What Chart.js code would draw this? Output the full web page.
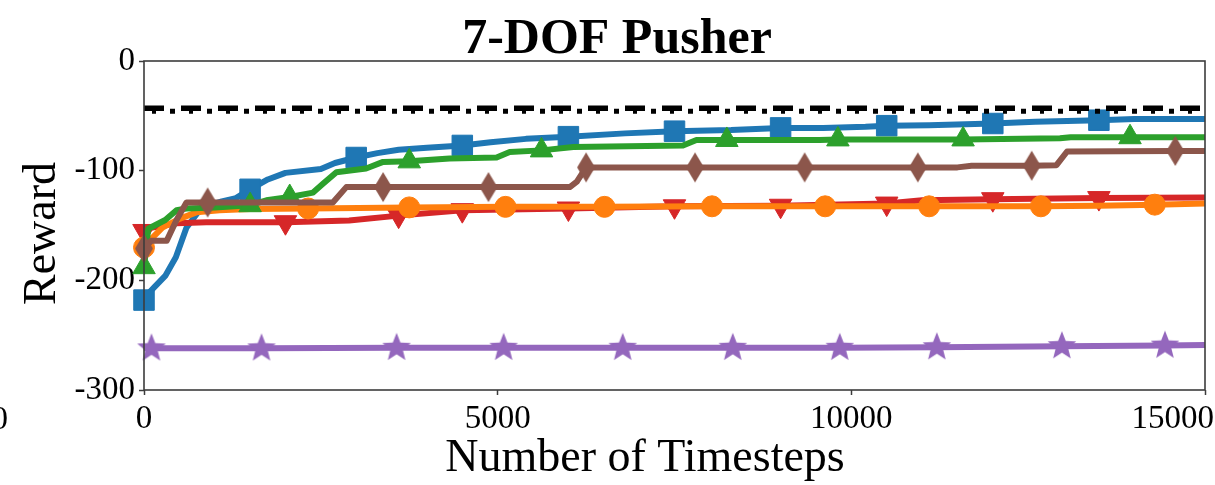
<!DOCTYPE html>
<html>
<head>
<meta charset="utf-8">
<title>7-DOF Pusher</title>
<script src="https://cdn.jsdelivr.net/npm/chart.js@4.4.1/dist/chart.umd.min.js"></script>
<style>
  html, body { margin: 0; padding: 0; background: #fff; }
  #wrap { width: 1215px; height: 485px; }
</style>
</head>
<body>
<div id="wrap"><canvas id="pusherChart" width="1215" height="485"></canvas></div>
<script>
// tick labels
const xTicks = [0, 5000, 10000, 15000];
const yTicks = [0, -100, -200, -300];

// black reference level
const oracleX = [0, 15000];
const oracleY = [-43, -43];

// blue / squares
const blueX = [0, 60, 150, 300, 450, 600, 750, 900, 1100, 1300, 1500, 1750, 2000, 2500, 2700, 3000, 3300, 3600, 4000, 4500, 4900, 5400, 6000, 6800, 7500, 8300, 9000, 9600, 10200, 10500, 11100, 12000, 12600, 13500, 14000, 15000];
const blueY = [-218, -212, -206, -196, -179, -152, -139, -132, -128, -125, -117, -108, -102, -98.5, -93, -88, -84, -81, -79, -77, -74, -71, -69, -66, -64, -63, -61, -61, -60, -59, -58.5, -57, -55.5, -54, -53, -53];
const blueMarks = [0, 1500, 3000, 4500, 6000, 7500, 9000, 10500, 12000, 13500];

// green / triangles up
const greenX = [0, 60, 300, 460, 600, 1000, 1500, 1730, 2060, 2390, 2530, 2720, 3140, 3380, 3750, 4320, 4985, 5170, 5620, 6070, 7620, 7810, 8240, 9550, 9810, 11580, 12950, 13100, 13940, 15000];
const greenY = [-188, -153, -145, -136, -134.5, -133.5, -131.5, -127, -124, -120, -112, -101.5, -98, -92, -91.5, -89, -88, -83, -81.5, -78.5, -77, -72, -72, -72, -71.5, -71.5, -70.5, -69.5, -69.5, -69.5];
const greenMarks = [0, 1500, 2060, 3750, 5620, 8240, 9810, 11580, 13940];

// red / triangles down
const redX = [0, 100, 460, 880, 2000, 2650, 2900, 3600, 4500, 6000, 7500, 9000, 10500, 11000, 12000, 13500, 15000];
const redY = [-155, -152, -148, -147, -147, -146, -145.5, -141, -136, -134.5, -132.5, -132, -130, -127, -126, -125, -124.5];
const redMarks = [0, 2000, 3600, 4500, 6000, 7500, 9000, 10500, 12000, 13500];

// orange / circles
const orangeX = [0, 120, 260, 500, 740, 1070, 1500, 2320, 3750, 5110, 6510, 8030, 9630, 11100, 12680, 13500, 14290, 15000];
const orangeY = [-170, -161, -152, -144, -138, -136, -135, -134.5, -133.5, -133, -133, -132.5, -132.5, -132.5, -132.5, -132, -131, -130];
const orangeMarks = [0, 2320, 3750, 5110, 6510, 8030, 9630, 11100, 12680, 14290];

// brown / thin diamonds
const brownX = [0, 100, 320, 460, 600, 900, 2670, 2860, 3380, 4870, 6020, 6120, 6250, 7790, 9340, 10940, 11500, 11700, 12550, 12900, 13050, 14580, 15000];
const brownY = [-171, -164, -164, -145, -129, -129, -129, -115, -115, -115, -115, -110, -97, -97, -97, -97, -97, -95.5, -95.5, -95, -82.5, -82, -82];
const brownMarks = [0, 900, 3380, 4870, 6250, 7790, 9340, 10940, 12550, 14580];

// purple / stars
const purpleX = [0, 106, 1662, 3571, 5085, 6768, 8324, 9837, 11209, 12977, 14434, 15000];
const purpleY = [-262, -262, -262, -261.5, -261.5, -261.5, -261.5, -261.5, -261, -260, -259.5, -259];
const purpleMarks = [106, 1662, 3571, 5085, 6768, 8324, 9837, 11209, 12977, 14434];

const SERIF = "'Liberation Serif', 'Times New Roman', serif";
const AXIS = '#3c3c3c';

function shapeImage(color, w, h, pts) {
  const c = document.createElement('canvas');
  c.width = w; c.height = h;
  const g = c.getContext('2d');
  g.fillStyle = color;
  g.beginPath();
  pts.forEach(p => g.lineTo(w / 2 + p[0], h / 2 + p[1]));
  g.closePath();
  g.fill();
  return c;
}

function star(color, R, r) {
  const pts = [];
  for (let i = 0; i < 10; i++) {
    const rad = i % 2 ? r : R;
    const a = -Math.PI / 2 + i * Math.PI / 5;
    pts.push([rad * Math.cos(a), rad * Math.sin(a)]);
  }
  return shapeImage(color, 2 * R + 2, 2 * R + 2, pts);
}

function thinDiamond(color, hw, hh) {
  return shapeImage(color, 2 * hw + 2, 2 * hh + 2, [[0, -hh], [hw, 0], [0, hh], [-hw, 0]]);
}

function series(xs, ys, marks, color, style, radius, order, rotation) {
  return {
    data: xs.map((x, i) => ({x: x, y: ys[i]})),
    borderColor: color,
    backgroundColor: color,
    borderWidth: 6,
    borderJoinStyle: 'round',
    pointStyle: style,
    pointRotation: rotation || 0,
    pointBackgroundColor: color,
    pointBorderColor: color,
    pointBorderWidth: 1,
    pointRadius: ctx => (ctx.dataIndex !== undefined && marks.includes(xs[ctx.dataIndex])) ? radius : 0,
    order: order,
    clip: false
  };
}

// draws frame, titles, x tick labels and lets the second oracle pass sit a few px lower
const decor = {
  id: 'decor',
  beforeDatasetDraw(chart, args) {
    if (chart.data.datasets[args.index].shiftDown) {
      chart.ctx.save();
      chart.ctx.translate(0, 3);
    }
  },
  afterDatasetDraw(chart, args) {
    if (chart.data.datasets[args.index].shiftDown) chart.ctx.restore();
  },
  afterDatasetsDraw(chart) {
    const {ctx, chartArea: a} = chart;
    ctx.save();
    ctx.strokeStyle = AXIS;
    ctx.lineWidth = 1.6;
    ctx.strokeRect(a.left, a.top, a.right - a.left, a.bottom - a.top);
    ctx.restore();
  },
  afterDraw(chart) {
    const ctx = chart.ctx;
    const xs = chart.scales.x;
    ctx.save();
    ctx.fillStyle = '#000';

    // x tick labels, the last one kept inside the canvas
    ctx.font = '33px ' + SERIF;
    ctx.textAlign = 'center';
    ctx.textBaseline = 'middle';
    xTicks.forEach(v => {
      const label = String(v);
      const w = ctx.measureText(label).width;
      const px = Math.min(xs.getPixelForValue(v), chart.width - 1 - w / 2);
      ctx.fillText(label, px, xs.bottom - 95 + 5 + 4 + 20);
    });

    ctx.textBaseline = 'alphabetic';
    ctx.font = 'bold 50px ' + SERIF;
    ctx.fillText('7-DOF Pusher', 617, 53);
    ctx.font = '46px ' + SERIF;
    ctx.fillText('Number of Timesteps', 645, 471);
    ctx.save();
    ctx.translate(55, 233.5);
    ctx.rotate(-Math.PI / 2);
    ctx.fillText('Reward', 0, 0);
    ctx.restore();
    // clipped tick label from the neighbouring panel
    ctx.textAlign = 'right';
    ctx.font = '33px ' + SERIF;
    ctx.fillText('0', 8, 429);
    ctx.restore();
  }
};

document.addEventListener('DOMContentLoaded', function(){
  const oracleMain = {
    data: oracleX.map((x, i) => ({x: x, y: oracleY[i]})),
    borderColor: '#000', borderWidth: 5.5, borderDash: [20, 17],
    pointRadius: 0, order: 0, clip: false
  };
  const oracleStem = {
    data: oracleX.map((x, i) => ({x: x, y: oracleY[i]})),
    borderColor: '#000', borderWidth: 5, borderDash: [4, 14, 5, 14], borderDashOffset: -8,
    pointRadius: 0, order: 0, clip: false, shiftDown: true
  };

  new Chart(document.getElementById('pusherChart'), {
    type: 'line',
    data: {
      datasets: [
        oracleMain,
        oracleStem,
        series(purpleX, purpleY, purpleMarks, '#9467bd', star('#9467bd', 15, 6.5), 15, 1),
        series(brownX, brownY, brownMarks, '#8c564b', thinDiamond('#8c564b', 9, 15), 15, 2),
        series(greenX, greenY, greenMarks, '#2ca02c', 'triangle', 13, 3),
        series(orangeX, orangeY, orangeMarks, '#ff7f0e', 'circle', 10.5, 4),
        series(redX, redY, redMarks, '#d62728', 'triangle', 13, 5, 180),
        series(blueX, blueY, blueMarks, '#1f77b4', 'rect', 14.5, 6)
      ]
    },
    options: {
      responsive: false,
      animation: false,
      events: [],
      layout: { padding: {top: 61, right: 10, left: 0, bottom: 0}, autoPadding: false },
      plugins: { legend: {display: false}, tooltip: {enabled: false}, title: {display: false} },
      scales: {
        x: {
          type: 'linear', min: 0, max: 15000,
          afterBuildTicks: s => { s.ticks = xTicks.map(v => ({value: v})); },
          afterFit: s => { s.height = 95; s.paddingLeft = 0; s.paddingRight = 0; },
          grid: {drawOnChartArea: false, drawTicks: true, tickLength: 5, tickColor: AXIS, tickWidth: 1.5},
          border: {display: false},
          ticks: {display: false}
        },
        y: {
          type: 'linear', min: -300, max: 0,
          afterBuildTicks: s => { s.ticks = yTicks.map(v => ({value: v})); },
          afterFit: s => { s.width = 144; s.paddingTop = 0; s.paddingBottom = 0; },
          grid: {drawOnChartArea: false, drawTicks: true, tickLength: 5, tickColor: AXIS, tickWidth: 1.5},
          border: {display: false},
          ticks: {color: '#000', padding: 4, autoSkip: false,
                  font: {family: SERIF, size: 33}, callback: v => String(v)}
        }
      }
    },
    plugins: [decor]
  });
});
</script>
</body>
</html>
